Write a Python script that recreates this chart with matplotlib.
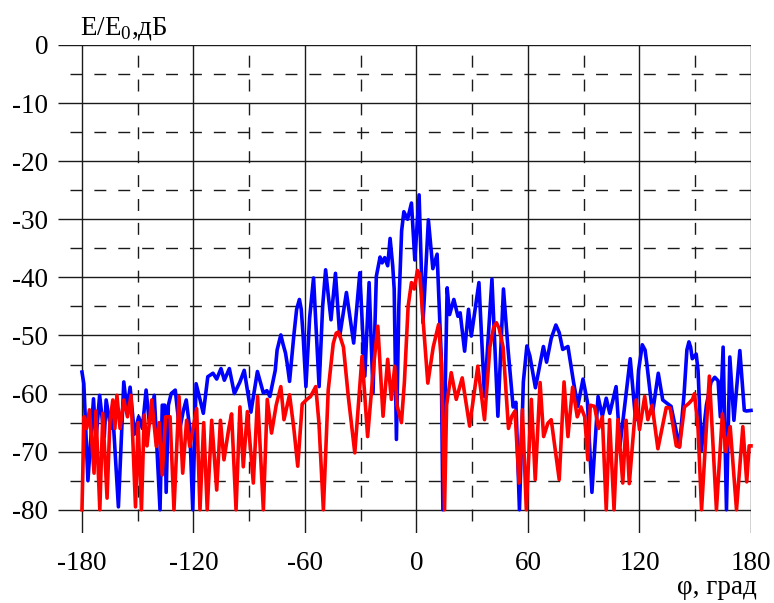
import matplotlib
matplotlib.use("Agg")
import matplotlib.pyplot as plt

plt.rcParams['font.family'] = ['Liberation Serif', 'DejaVu Serif']
plt.rcParams['mathtext.fontset'] = 'custom'
plt.rcParams['mathtext.rm'] = 'Liberation Serif'

# ---- data ----
blue_phi = [-180, -179, -176.8, -173.8, -172.5, -170.5, -168, -167, -164.5, -163.5,
            -160.4, -157.5, -155.8, -154.1, -151.8, -149.5, -147.5, -145.5, -143.7, -141.1,
            -138, -136.8, -135.5, -134.7, -133.5, -132, -129.8, -127.5, -125.5, -123.9,
            -122, -120.4, -118.6, -116.5, -114.7, -112.3, -109.5, -107.5, -105.2, -103.4,
            -100.7, -98, -95, -92.7, -89.1, -87.5, -85.6, -82.4, -80.5, -78.9,
            -76, -75, -73, -71.8, -70.5, -69.5, -68.3, -66, -64.5, -63, -62, -61, -59.5, -57.5, -55.4,
            -53.8, -52.4, -50.5, -48.9, -47.5, -46, -43.6, -41.3, -37.7, -33.8,
            -30.5, -27.8, -25.5, -23.4, -21.6, -19.6, -18.5, -17.1, -15.5, -14.2,
            -12.8, -12, -10.8, -9.5, -8, -6.8, -4.8, -2.7, -0.9, 1.4,
            3.5, 6.4, 8.8, 11.1, 13.3, 14.2, 16.5, 17.8, 20.1, 22.3,
            23.5, 25.9, 28, 29.5, 33.6, 36.6, 40.6, 43.8, 46.8, 49.3,
            52, 53.5, 55.4, 57.5, 59.4, 61, 64, 68.3, 70, 72.5, 75, 76.8, 78.7, 81.5,
            84.5, 86.8, 89.6, 92, 94.4, 97.7, 100, 102.1, 104, 107.4,
            109.5, 115, 117.9, 119.5, 121.5, 123, 124, 127, 130.1, 132.5, 134.5, 137,
            141.5, 144, 145.5, 146.6, 147.5, 148.4, 150.5, 151.5, 153.3, 156, 158.5, 160.5, 162.3,
            163.5, 165, 166.8, 168.6, 170.8, 174, 176.4, 177.5, 180]
blue_db = [-56.3, -58.3, -75, -60.9, -68, -60.3, -67.5, -61.1, -66, -63,
           -79.5, -58, -62.9, -58.9, -67, -64, -66, -59.4, -65.2, -60.3,
           -80, -62, -62, -77, -62, -60, -59.4, -66.3, -63, -61.1,
           -66, -80, -58.3, -61, -63.4, -57.1, -56.5, -57.5, -55.7, -57.7,
           -55.7, -60, -58, -56, -63.2, -60, -56.2, -59.9, -59.5, -60.5,
           -56, -52.5, -49.9, -51.5, -53, -55, -57.9, -50, -45.5, -43.8, -45.5, -50, -58.8, -47, -40.1,
           -50, -58.8, -45, -38.7, -43, -47.3, -39.3, -50.1, -42.6, -51.3,
           -39.2, -57, -40.9, -59.9, -39.8, -36.5, -37.5, -36.6, -38, -33.3,
           -38, -42, -67.9, -45, -32, -28.7, -30, -27.2, -37, -25.8,
           -47.8, -30.1, -38.5, -36, -53.6, -80, -41.8, -46.4, -43.8, -46.7,
           -46.1, -52.7, -45.5, -50.1, -40.9, -60.5, -40.3, -63.9, -42, -52.5,
           -62.3, -61.5, -80, -58, -51.8, -53.5, -59, -51.9, -54.6, -50.5, -48.2, -49.5, -52.4, -51.9,
           -58, -62.2, -57.5, -61.5, -77, -60.5, -63.9, -60.8, -63.4, -58.8,
           -69, -54, -64.5, -56, -51.6, -52.5, -55, -63.4, -56.5, -61.1, -61.6, -62.2,
           -69.2, -60, -52.5, -51.1, -52, -54, -53.2, -56, -69.8, -62, -58, -57.2, -57.8,
           -64, -52, -80, -53.7, -64.6, -52.6, -62.9, -63, -62.9]

red_phi = [-180, -178.9, -177.5, -176, -173.5, -172.5, -170.4, -168.8, -166.5, -165,
           -163.4, -162.3, -161.2, -159.5, -157.5, -155.5, -153.6, -151.2, -149.8, -148,
           -146.5, -145, -142.5, -140, -138.5, -136.8, -135, -132.6, -130.5, -127.8,
           -125.8, -123.7, -122, -118.3, -116.5, -114.5, -112.6, -110.2, -107.5, -105.5,
           -103.6, -101, -99.5, -97.1, -95, -93.2, -91, -87.8, -85.5, -82.4,
           -80.3, -78, -75.5, -73, -71.3, -68.3, -66, -63.9, -61.5, -59,
           -57, -54.2, -52.5, -50.1, -47.5, -44.8, -43.2, -42, -40.8, -39.3, -36.7,
           -33.2, -29.3, -26.3, -23, -20.8, -18, -15.5, -13.5, -11.7, -10.5,
           -8.1, -6.5, -4.5, -2.7, -1.2, 0.5, 1.8, 3, 6.1, 9,
           11.9, 13.5, 15.1, 16.2, 18.7, 21.4, 24.6, 28.6, 33, 36.6,
           39.5, 41.5, 43, 44.5, 46.6, 49.5, 51.3, 53, 55.2, 57, 59.1, 61.8,
           63.9, 66.5, 68.4, 70.7, 72.5, 76.8, 79.4, 81.5, 84, 86.5,
           88.5, 90.5, 92.2, 93.5, 95.8, 98, 100, 102.1, 103.9, 106.3,
           108.4, 111, 112.8, 114.5, 118.2, 120, 122.8, 124.5, 126.8, 129.9,
           134.4, 136.5, 139.8, 141.5, 144.2, 146.5, 148.5, 149.6, 151.5, 153.4,
           157.6, 161.4, 164.6, 166.5, 168.8, 172.2, 175.6, 177.7, 179, 180]
red_db = [-80, -64, -66, -62.8, -73.7, -63, -80, -63.4, -78, -65,
          -61.1, -66, -60.3, -66, -61.1, -64, -60.3, -79.5, -65, -80,
          -63.7, -69, -61.1, -69.1, -65, -74, -64, -64, -80, -60.5,
          -73.7, -64.6, -69.1, -62.6, -80, -65, -80, -64.6, -76.6, -64.6,
          -71.4, -66, -63.5, -80, -62.3, -72.6, -63.1, -75.4, -60.5, -80,
          -61, -66.8, -62, -58.8, -64.5, -60.2, -66, -72.5, -61.8, -61,
          -60.5, -58.8, -65, -80, -59.4, -51.4, -49.6, -49.4, -50.5, -52, -60.5,
          -70.2, -53.6, -67.4, -55, -48.4, -63.9, -54.1, -61, -55.3, -62,
          -65, -58, -45, -40.9, -42, -38.8, -39.5, -45, -58.2, -52,
          -48.1, -55, -80, -62, -56.4, -61, -57.3, -65.6, -55.3, -64.5,
          -52, -48.6, -47.8, -48.8, -52, -66, -63.9, -63, -75.4, -62.8, -80, -61,
          -74.8, -58.1, -67.4, -65.1, -64.5, -74.8, -58, -67.4, -58.9, -64,
          -62.3, -64, -71.4, -62, -62.2, -66, -64, -80, -64.5, -80,
          -64.5, -75.4, -64.6, -75.5, -61.1, -66.2, -60.5, -64.5, -62, -69.5,
          -62.4, -62.5, -69, -69.2, -62.3, -61.7, -61, -60, -66, -80,
          -57, -80, -63.5, -70, -65.7, -80, -65.7, -75.2, -69, -69]

x_major = [-180, -120, -60, 0, 60, 120, 180]
x_minor = [-150, -90, -30, 30, 90, 150]
y_major = [0, -10, -20, -30, -40, -50, -60, -70, -80]
y_minor = [-5, -15, -25, -35, -45, -55, -65, -75]
x_labels = ['-180', '-120', '-60', '0', '60', '120', '180']
y_labels = ['0', '-10', '-20', '-30', '-40', '-50', '-60', '-70', '-80']

# ---- figure ----
W, H = 774, 603
fig = plt.figure(figsize=(W / 100, H / 100), dpi=100)
ax = fig.add_axes([58 / W, 70 / H, (751 - 58) / W, (533 - 45) / H])
XMIN, XMAX = -192.9, 180
YMIN, YMAX = -84, 0
ax.set_xlim(XMIN, XMAX)
ax.set_ylim(YMIN, YMAX)
for s in ax.spines.values():
    s.set_visible(False)

grid_c = '#1a1a1a'
for yv in y_major:
    ax.plot([XMIN, XMAX], [yv, yv], color=grid_c, lw=1.0, solid_capstyle='butt', zorder=1)
for xv in x_major:
    ax.plot([xv, xv], [YMIN, YMAX], color=grid_c, lw=1.0, solid_capstyle='butt', zorder=1)
for yv in y_minor:
    ax.plot([-186.6, XMAX], [yv, yv], color=grid_c, lw=1.0, linestyle=(0, (8.6, 8.6)), zorder=1)
for xv in x_minor:
    ax.plot([xv, xv], [-82, -1.2], color=grid_c, lw=1.0, linestyle=(0, (8.6, 8.6)), zorder=1)

ax.plot(blue_phi, blue_db, color='#0000ff', lw=2.6, zorder=3, clip_on=False,
        solid_joinstyle='round')
ax.plot(red_phi, red_db, color='#ff0000', lw=2.6, zorder=4, clip_on=False,
        solid_joinstyle='round')

ax.set_xticks(x_major)
ax.set_xticklabels(x_labels)
ax.set_yticks(y_major)
ax.set_yticklabels(y_labels)
ax.tick_params(axis='both', length=0, labelsize=19.5, colors='black')
ax.tick_params(axis='x', pad=13)
ax.tick_params(axis='y', pad=7)

fig.text(80 / W, 1 - 34 / H, r'E/E$_{\mathregular{0}}$,дБ', fontsize=19.5,
         ha='left', va='baseline')
fig.text(757 / W, 1 - 594 / H, 'φ, град', fontsize=19.5, ha='right', va='baseline')

fig.savefig('out.png', dpi=100, facecolor='white')
